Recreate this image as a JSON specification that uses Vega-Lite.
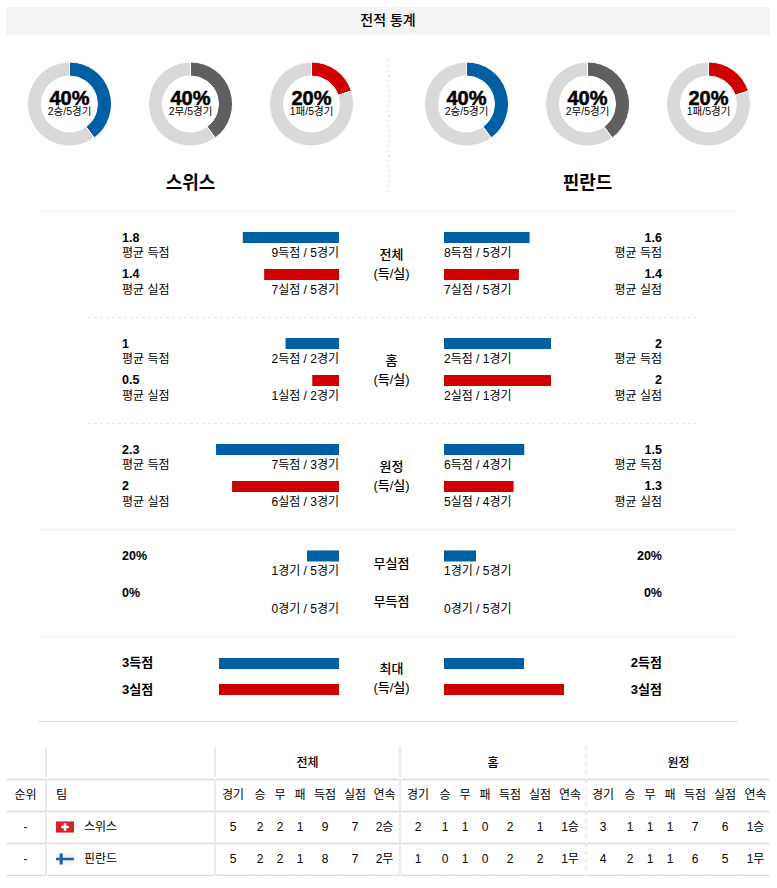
{
"$schema":"https://vega.github.io/schema/vega-lite/v6.json",
"padding":{"left":6,"top":7,"right":0,"bottom":0},
"spacing":0,
"background":"#ffffff",
"config":{
"font":"'Liberation Sans','Noto Sans CJK KR'",
"view":{"stroke":null},
"concat":{"spacing":0},
"scale":{"bandPaddingInner":0,"bandPaddingOuter":0},
"range":{"category":["#005fa3","#5f5f5f","#cf0000","#d9d9d9","#005fa3","#cf0000"]},
"axisY":{"grid":true,"tickBand":"extent","labels":false,"ticks":false,"domain":false,"title":null,"gridColor":"#dcdcdc","gridWidth":1.5},
"style":{
"bigL":{"fontSize":12.5,"fontWeight":"bold","align":"left","dx":19,"dy":-8.5},
"bigR":{"fontSize":12.5,"fontWeight":"bold","align":"right","dx":-23,"dy":-8.5},
"smallL":{"fontSize":12,"align":"left","dx":19,"dy":7},
"smallR":{"fontSize":12,"align":"right","dx":-23,"dy":7},
"maxL":{"fontSize":13,"fontWeight":"bold","align":"left","dx":19,"dy":-2.5},
"maxR":{"fontSize":13,"fontWeight":"bold","align":"right","dx":-23,"dy":-2.5},
"noteL":{"fontSize":12,"align":"right","dy":7},
"noteR":{"fontSize":12,"align":"left","dy":7},
"mid":{"fontSize":13,"fontWeight":500,"lineBreak":"\n","lineHeight":19,"dy":-10},
"mid4":{"fontSize":13,"fontWeight":500},
"grp":{"fontSize":12,"fontWeight":500,"dy":1},
"cell":{"fontSize":12},
"pct":{"fontSize":20,"fontWeight":"bold","dy":-5.5,"stroke":"#000000","strokeWidth":0.5},
"sub":{"fontSize":10.5,"dy":8},
"name":{"fontSize":18,"fontWeight":"bold","dy":-8}
}
},
"datasets":{
"s":[
{"sec":"all","side":"L","row":"득점","value":1.8,"big":"1.8","small":"평균 득점","note":"9득점 / 5경기"},
{"sec":"all","side":"L","row":"실점","value":1.4,"big":"1.4","small":"평균 실점","note":"7실점 / 5경기"},
{"sec":"all","side":"R","row":"득점","value":1.6,"big":"1.6","small":"평균 득점","note":"8득점 / 5경기"},
{"sec":"all","side":"R","row":"실점","value":1.4,"big":"1.4","small":"평균 실점","note":"7실점 / 5경기"},
{"sec":"home","side":"L","row":"득점","value":1,"big":"1","small":"평균 득점","note":"2득점 / 2경기"},
{"sec":"home","side":"L","row":"실점","value":0.5,"big":"0.5","small":"평균 실점","note":"1실점 / 2경기"},
{"sec":"home","side":"R","row":"득점","value":2,"big":"2","small":"평균 득점","note":"2득점 / 1경기"},
{"sec":"home","side":"R","row":"실점","value":2,"big":"2","small":"평균 실점","note":"2실점 / 1경기"},
{"sec":"away","side":"L","row":"득점","value":2.3,"big":"2.3","small":"평균 득점","note":"7득점 / 3경기"},
{"sec":"away","side":"L","row":"실점","value":2,"big":"2","small":"평균 실점","note":"6실점 / 3경기"},
{"sec":"away","side":"R","row":"득점","value":1.5,"big":"1.5","small":"평균 득점","note":"6득점 / 4경기"},
{"sec":"away","side":"R","row":"실점","value":1.3,"big":"1.3","small":"평균 실점","note":"5실점 / 4경기"},
{"sec":"zero","side":"L","row":"무실점","value":20,"big":"20%","note":"1경기 / 5경기"},
{"sec":"zero","side":"L","row":"무득점","value":0,"big":"0%","note":"0경기 / 5경기"},
{"sec":"zero","side":"R","row":"무실점","value":20,"big":"20%","note":"1경기 / 5경기"},
{"sec":"zero","side":"R","row":"무득점","value":0,"big":"0%","note":"0경기 / 5경기"},
{"sec":"max","side":"L","row":"득점","value":3,"big":"3득점"},
{"sec":"max","side":"L","row":"실점","value":3,"big":"3실점"},
{"sec":"max","side":"R","row":"득점","value":2,"big":"2득점"},
{"sec":"max","side":"R","row":"실점","value":3,"big":"3실점"}
],
"d":[
{"id":"l1","part":"승","v":40,"o":1,"pct":"40%","sub":"2승/5경기"},{"id":"l1","part":"나머지","v":60,"o":2},
{"id":"l2","part":"무","v":40,"o":1,"pct":"40%","sub":"2무/5경기"},{"id":"l2","part":"나머지","v":60,"o":2},
{"id":"l3","part":"패","v":20,"o":1,"pct":"20%","sub":"1패/5경기"},{"id":"l3","part":"나머지","v":80,"o":2},
{"id":"r1","part":"승","v":40,"o":1,"pct":"40%","sub":"2승/5경기"},{"id":"r1","part":"나머지","v":60,"o":2},
{"id":"r2","part":"무","v":40,"o":1,"pct":"40%","sub":"2무/5경기"},{"id":"r2","part":"나머지","v":60,"o":2},
{"id":"r3","part":"패","v":20,"o":1,"pct":"20%","sub":"1패/5경기"},{"id":"r3","part":"나머지","v":80,"o":2}
],
"t":[
{"row":"h","rank":"순위","team":"팀","a1":"경기","a2":"승","a3":"무","a4":"패","a5":"득점","a6":"실점","a7":"연속","h1":"경기","h2":"승","h3":"무","h4":"패","h5":"득점","h6":"실점","h7":"연속","w1":"경기","w2":"승","w3":"무","w4":"패","w5":"득점","w6":"실점","w7":"연속"},
{"row":"스위스","rank":"-","team":"스위스","a1":"5","a2":"2","a3":"2","a4":"1","a5":"9","a6":"7","a7":"2승","h1":"2","h2":"1","h3":"1","h4":"0","h5":"2","h6":"1","h7":"1승","w1":"3","w2":"1","w3":"1","w4":"1","w5":"7","w6":"6","w7":"1승"},
{"row":"핀란드","rank":"-","team":"핀란드","a1":"5","a2":"2","a3":"2","a4":"1","a5":"8","a6":"7","a7":"2무","h1":"1","h2":"0","h3":"1","h4":"0","h5":"2","h6":"2","h7":"1무","w1":"4","w2":"2","w3":"1","w4":"1","w5":"6","w6":"5","w7":"1무"}
],
"one":[{"a":""}]
},
"vconcat":[
{"width":764,"height":28,"view":{"fill":"#f4f4f4"},"data":{"values":[{"t":"전적 통계"}]},"mark":{"type":"text","fontSize":14,"fontWeight":500},"encoding":{"text":{"field":"t"}}},
{"hconcat":[
{"width":2.5,"height":176,"data":{"name":"one"},"mark":"text","encoding":{"text":{"field":"a"}}},
{"vconcat":[
{"hconcat":[
{"width":121,"height":138,"data":{"name":"d"},"transform":[{"filter":"datum.id=='l1'"}],"layer":[{"mark":{"type":"arc","innerRadius":28,"outerRadius":42,"stroke":"#ffffff","strokeWidth":1},"encoding":{"theta":{"field":"v","type":"quantitative"},"order":{"field":"o"},"color":{"field":"part","legend":null,"scale":{"domain":["승","무","패","나머지","득점","실점"]}}}},{"transform":[{"filter":"datum.o==1"}],"mark":{"type":"text","style":"pct"},"encoding":{"text":{"field":"pct"}}},{"transform":[{"filter":"datum.o==1"}],"mark":{"type":"text","style":"sub"},"encoding":{"text":{"field":"sub"}}}]},
{"width":121,"height":138,"data":{"name":"d"},"transform":[{"filter":"datum.id=='l2'"}],"layer":[{"mark":{"type":"arc","innerRadius":28,"outerRadius":42,"stroke":"#ffffff","strokeWidth":1},"encoding":{"theta":{"field":"v","type":"quantitative"},"order":{"field":"o"},"color":{"field":"part","legend":null,"scale":{"domain":["승","무","패","나머지","득점","실점"]}}}},{"transform":[{"filter":"datum.o==1"}],"mark":{"type":"text","style":"pct"},"encoding":{"text":{"field":"pct"}}},{"transform":[{"filter":"datum.o==1"}],"mark":{"type":"text","style":"sub"},"encoding":{"text":{"field":"sub"}}}]},
{"width":121,"height":138,"data":{"name":"d"},"transform":[{"filter":"datum.id=='l3'"}],"layer":[{"mark":{"type":"arc","innerRadius":28,"outerRadius":42,"stroke":"#ffffff","strokeWidth":1},"encoding":{"theta":{"field":"v","type":"quantitative"},"order":{"field":"o"},"color":{"field":"part","legend":null,"scale":{"domain":["승","무","패","나머지","득점","실점"]}}}},{"transform":[{"filter":"datum.o==1"}],"mark":{"type":"text","style":"pct"},"encoding":{"text":{"field":"pct"}}},{"transform":[{"filter":"datum.o==1"}],"mark":{"type":"text","style":"sub"},"encoding":{"text":{"field":"sub"}}}]}
]},
{"width":363,"height":38,"data":{"values":[{"t":"스위스"}]},"mark":{"type":"text","style":"name"},"encoding":{"text":{"field":"t"}}}
]},
{"width":15.5,"height":176,"data":{"name":"one"},"mark":"text","encoding":{"text":{"field":"a"}}},
{"width":2,"height":176,"data":{"name":"one"},"mark":{"type":"rule","color":"#e4e4e4","strokeWidth":1.5,"strokeDash":[2,3]},"encoding":{"x":{"datum":0,"type":"quantitative","axis":null,"scale":{"domain":[-1,1]}},"y":{"datum":25,"type":"quantitative","axis":null,"scale":{"domain":[0,176],"reverse":true}},"y2":{"datum":160}}},
{"width":15.5,"height":176,"data":{"name":"one"},"mark":"text","encoding":{"text":{"field":"a"}}},
{"vconcat":[
{"hconcat":[
{"width":121,"height":138,"data":{"name":"d"},"transform":[{"filter":"datum.id=='r1'"}],"layer":[{"mark":{"type":"arc","innerRadius":28,"outerRadius":42,"stroke":"#ffffff","strokeWidth":1},"encoding":{"theta":{"field":"v","type":"quantitative"},"order":{"field":"o"},"color":{"field":"part","legend":null,"scale":{"domain":["승","무","패","나머지","득점","실점"]}}}},{"transform":[{"filter":"datum.o==1"}],"mark":{"type":"text","style":"pct"},"encoding":{"text":{"field":"pct"}}},{"transform":[{"filter":"datum.o==1"}],"mark":{"type":"text","style":"sub"},"encoding":{"text":{"field":"sub"}}}]},
{"width":121,"height":138,"data":{"name":"d"},"transform":[{"filter":"datum.id=='r2'"}],"layer":[{"mark":{"type":"arc","innerRadius":28,"outerRadius":42,"stroke":"#ffffff","strokeWidth":1},"encoding":{"theta":{"field":"v","type":"quantitative"},"order":{"field":"o"},"color":{"field":"part","legend":null,"scale":{"domain":["승","무","패","나머지","득점","실점"]}}}},{"transform":[{"filter":"datum.o==1"}],"mark":{"type":"text","style":"pct"},"encoding":{"text":{"field":"pct"}}},{"transform":[{"filter":"datum.o==1"}],"mark":{"type":"text","style":"sub"},"encoding":{"text":{"field":"sub"}}}]},
{"width":121,"height":138,"data":{"name":"d"},"transform":[{"filter":"datum.id=='r3'"}],"layer":[{"mark":{"type":"arc","innerRadius":28,"outerRadius":42,"stroke":"#ffffff","strokeWidth":1},"encoding":{"theta":{"field":"v","type":"quantitative"},"order":{"field":"o"},"color":{"field":"part","legend":null,"scale":{"domain":["승","무","패","나머지","득점","실점"]}}}},{"transform":[{"filter":"datum.o==1"}],"mark":{"type":"text","style":"pct"},"encoding":{"text":{"field":"pct"}}},{"transform":[{"filter":"datum.o==1"}],"mark":{"type":"text","style":"sub"},"encoding":{"text":{"field":"sub"}}}]}
]},
{"width":363,"height":38,"data":{"values":[{"t":"핀란드"}]},"mark":{"type":"text","style":"name"},"encoding":{"text":{"field":"t"}}}
]}
]},
{"width":764,"height":1,"data":{"name":"one"},"mark":{"type":"rule","color":"#eeeeee","strokeWidth":1},"encoding":{"x":{"datum":32,"type":"quantitative","axis":null,"scale":{"domain":[0,764]}},"x2":{"datum":732},"y":{"datum":0,"type":"quantitative","axis":null,"scale":{"domain":[-1,1]}}}},

{"hconcat":[
{"width":194,"height":105,"data":{"name":"s"},"transform":[{"filter":"datum.sec=='all'&&datum.side=='L'"}],"encoding":{"y":{"field":"row","type":"nominal","axis":null,"scale":{"type":"band","domain":["득점","실점"],"paddingOuter":0.42}}},"layer":[{"mark":{"type":"text","style":"bigL"},"encoding":{"text":{"field":"big"}}},{"mark":{"type":"text","style":"smallL"},"encoding":{"text":{"field":"small"}}}]},
{"width":139,"height":105,"data":{"name":"s"},"transform":[{"filter":"datum.sec=='all'&&datum.side=='L'"}],"encoding":{"y":{"field":"row","type":"nominal","axis":null,"scale":{"type":"band","domain":["득점","실점"],"paddingOuter":0.42}},"x":{"field":"value","type":"quantitative","axis":null,"scale":{"domain":[0,2.6],"reverse":true}}},"layer":[{"mark":{"type":"bar","size":11,"yOffset":-8.5},"encoding":{"color":{"field":"row","legend":null,"scale":{"domain":["승","무","패","나머지","득점","실점"]}}}},{"mark":{"type":"text","style":"noteL"},"encoding":{"x":{"datum":0},"text":{"field":"note"}}}]},
{"width":105,"height":105,"data":{"values":[{"t":"전체\n(득/실)"}]},"mark":{"type":"text","style":"mid"},"encoding":{"text":{"field":"t"}}},
{"width":156,"height":105,"data":{"name":"s"},"transform":[{"filter":"datum.sec=='all'&&datum.side=='R'"}],"encoding":{"y":{"field":"row","type":"nominal","axis":null,"scale":{"type":"band","domain":["득점","실점"],"paddingOuter":0.42}},"x":{"field":"value","type":"quantitative","axis":null,"scale":{"domain":[0,2.916]}}},"layer":[{"mark":{"type":"bar","size":11,"yOffset":-8.5},"encoding":{"color":{"field":"row","legend":null,"scale":{"domain":["승","무","패","나머지","득점","실점"]}}}},{"mark":{"type":"text","style":"noteR"},"encoding":{"x":{"datum":0},"text":{"field":"note"}}}]},
{"width":170,"height":105,"data":{"name":"s"},"transform":[{"filter":"datum.sec=='all'&&datum.side=='R'"}],"encoding":{"y":{"field":"row","type":"nominal","axis":null,"scale":{"type":"band","domain":["득점","실점"],"paddingOuter":0.42}}},"layer":[{"mark":{"type":"text","style":"bigR"},"encoding":{"text":{"field":"big"}}},{"mark":{"type":"text","style":"smallR"},"encoding":{"text":{"field":"small"}}}]}
]},
{"width":764,"height":1,"data":{"name":"one"},"mark":{"type":"rule","color":"#e6e6e6","strokeWidth":1,"strokeDash":[3,3]},"encoding":{"x":{"datum":82,"type":"quantitative","axis":null,"scale":{"domain":[0,764]}},"x2":{"datum":692},"y":{"datum":0,"type":"quantitative","axis":null,"scale":{"domain":[-1,1]}}}},

{"hconcat":[
{"width":194,"height":105,"data":{"name":"s"},"transform":[{"filter":"datum.sec=='home'&&datum.side=='L'"}],"encoding":{"y":{"field":"row","type":"nominal","axis":null,"scale":{"type":"band","domain":["득점","실점"],"paddingOuter":0.42}}},"layer":[{"mark":{"type":"text","style":"bigL"},"encoding":{"text":{"field":"big"}}},{"mark":{"type":"text","style":"smallL"},"encoding":{"text":{"field":"small"}}}]},
{"width":139,"height":105,"data":{"name":"s"},"transform":[{"filter":"datum.sec=='home'&&datum.side=='L'"}],"encoding":{"y":{"field":"row","type":"nominal","axis":null,"scale":{"type":"band","domain":["득점","실점"],"paddingOuter":0.42}},"x":{"field":"value","type":"quantitative","axis":null,"scale":{"domain":[0,2.6],"reverse":true}}},"layer":[{"mark":{"type":"bar","size":11,"yOffset":-8.5},"encoding":{"color":{"field":"row","legend":null,"scale":{"domain":["승","무","패","나머지","득점","실점"]}}}},{"mark":{"type":"text","style":"noteL"},"encoding":{"x":{"datum":0},"text":{"field":"note"}}}]},
{"width":105,"height":105,"data":{"values":[{"t":"홈\n(득/실)"}]},"mark":{"type":"text","style":"mid"},"encoding":{"text":{"field":"t"}}},
{"width":156,"height":105,"data":{"name":"s"},"transform":[{"filter":"datum.sec=='home'&&datum.side=='R'"}],"encoding":{"y":{"field":"row","type":"nominal","axis":null,"scale":{"type":"band","domain":["득점","실점"],"paddingOuter":0.42}},"x":{"field":"value","type":"quantitative","axis":null,"scale":{"domain":[0,2.916]}}},"layer":[{"mark":{"type":"bar","size":11,"yOffset":-8.5},"encoding":{"color":{"field":"row","legend":null,"scale":{"domain":["승","무","패","나머지","득점","실점"]}}}},{"mark":{"type":"text","style":"noteR"},"encoding":{"x":{"datum":0},"text":{"field":"note"}}}]},
{"width":170,"height":105,"data":{"name":"s"},"transform":[{"filter":"datum.sec=='home'&&datum.side=='R'"}],"encoding":{"y":{"field":"row","type":"nominal","axis":null,"scale":{"type":"band","domain":["득점","실점"],"paddingOuter":0.42}}},"layer":[{"mark":{"type":"text","style":"bigR"},"encoding":{"text":{"field":"big"}}},{"mark":{"type":"text","style":"smallR"},"encoding":{"text":{"field":"small"}}}]}
]},
{"width":764,"height":1,"data":{"name":"one"},"mark":{"type":"rule","color":"#e6e6e6","strokeWidth":1,"strokeDash":[3,3]},"encoding":{"x":{"datum":82,"type":"quantitative","axis":null,"scale":{"domain":[0,764]}},"x2":{"datum":692},"y":{"datum":0,"type":"quantitative","axis":null,"scale":{"domain":[-1,1]}}}},

{"hconcat":[
{"width":194,"height":105,"data":{"name":"s"},"transform":[{"filter":"datum.sec=='away'&&datum.side=='L'"}],"encoding":{"y":{"field":"row","type":"nominal","axis":null,"scale":{"type":"band","domain":["득점","실점"],"paddingOuter":0.42}}},"layer":[{"mark":{"type":"text","style":"bigL"},"encoding":{"text":{"field":"big"}}},{"mark":{"type":"text","style":"smallL"},"encoding":{"text":{"field":"small"}}}]},
{"width":139,"height":105,"data":{"name":"s"},"transform":[{"filter":"datum.sec=='away'&&datum.side=='L'"}],"encoding":{"y":{"field":"row","type":"nominal","axis":null,"scale":{"type":"band","domain":["득점","실점"],"paddingOuter":0.42}},"x":{"field":"value","type":"quantitative","axis":null,"scale":{"domain":[0,2.6],"reverse":true}}},"layer":[{"mark":{"type":"bar","size":11,"yOffset":-8.5},"encoding":{"color":{"field":"row","legend":null,"scale":{"domain":["승","무","패","나머지","득점","실점"]}}}},{"mark":{"type":"text","style":"noteL"},"encoding":{"x":{"datum":0},"text":{"field":"note"}}}]},
{"width":105,"height":105,"data":{"values":[{"t":"원정\n(득/실)"}]},"mark":{"type":"text","style":"mid"},"encoding":{"text":{"field":"t"}}},
{"width":156,"height":105,"data":{"name":"s"},"transform":[{"filter":"datum.sec=='away'&&datum.side=='R'"}],"encoding":{"y":{"field":"row","type":"nominal","axis":null,"scale":{"type":"band","domain":["득점","실점"],"paddingOuter":0.42}},"x":{"field":"value","type":"quantitative","axis":null,"scale":{"domain":[0,2.916]}}},"layer":[{"mark":{"type":"bar","size":11,"yOffset":-8.5},"encoding":{"color":{"field":"row","legend":null,"scale":{"domain":["승","무","패","나머지","득점","실점"]}}}},{"mark":{"type":"text","style":"noteR"},"encoding":{"x":{"datum":0},"text":{"field":"note"}}}]},
{"width":170,"height":105,"data":{"name":"s"},"transform":[{"filter":"datum.sec=='away'&&datum.side=='R'"}],"encoding":{"y":{"field":"row","type":"nominal","axis":null,"scale":{"type":"band","domain":["득점","실점"],"paddingOuter":0.42}}},"layer":[{"mark":{"type":"text","style":"bigR"},"encoding":{"text":{"field":"big"}}},{"mark":{"type":"text","style":"smallR"},"encoding":{"text":{"field":"small"}}}]}
]},
{"width":764,"height":1,"data":{"name":"one"},"mark":{"type":"rule","color":"#eeeeee","strokeWidth":1},"encoding":{"x":{"datum":32,"type":"quantitative","axis":null,"scale":{"domain":[0,764]}},"x2":{"datum":732},"y":{"datum":0,"type":"quantitative","axis":null,"scale":{"domain":[-1,1]}}}},

{"hconcat":[
{"width":194,"height":106,"data":{"name":"s"},"transform":[{"filter":"datum.sec=='zero'&&datum.side=='L'"}],"mark":{"type":"text","style":"bigL"},"encoding":{"y":{"field":"row","type":"nominal","axis":null,"scale":{"type":"band","domain":["무실점","무득점"],"paddingOuter":0.43}},"text":{"field":"big"}}},
{"width":139,"height":106,"data":{"name":"s"},"transform":[{"filter":"datum.sec=='zero'&&datum.side=='L'"}],"encoding":{"y":{"field":"row","type":"nominal","axis":null,"scale":{"type":"band","domain":["무실점","무득점"],"paddingOuter":0.43}},"x":{"field":"value","type":"quantitative","axis":null,"scale":{"domain":[0,86.9],"reverse":true}}},"layer":[{"mark":{"type":"bar","size":11,"yOffset":-8.5,"color":"#005fa3"}},{"mark":{"type":"text","style":"noteL"},"encoding":{"x":{"datum":0},"text":{"field":"note"}}}]},
{"width":105,"height":106,"data":{"values":[{"row":"무실점"},{"row":"무득점"}]},"mark":{"type":"text","style":"mid4"},"encoding":{"y":{"field":"row","type":"nominal","axis":null,"scale":{"type":"band","domain":["무실점","무득점"],"paddingOuter":0.43}},"text":{"field":"row"}}},
{"width":156,"height":106,"data":{"name":"s"},"transform":[{"filter":"datum.sec=='zero'&&datum.side=='R'"}],"encoding":{"y":{"field":"row","type":"nominal","axis":null,"scale":{"type":"band","domain":["무실점","무득점"],"paddingOuter":0.43}},"x":{"field":"value","type":"quantitative","axis":null,"scale":{"domain":[0,97.5]}}},"layer":[{"mark":{"type":"bar","size":11,"yOffset":-8.5,"color":"#005fa3"}},{"mark":{"type":"text","style":"noteR"},"encoding":{"x":{"datum":0},"text":{"field":"note"}}}]},
{"width":170,"height":106,"data":{"name":"s"},"transform":[{"filter":"datum.sec=='zero'&&datum.side=='R'"}],"mark":{"type":"text","style":"bigR"},"encoding":{"y":{"field":"row","type":"nominal","axis":null,"scale":{"type":"band","domain":["무실점","무득점"],"paddingOuter":0.43}},"text":{"field":"big"}}}
]},
{"width":764,"height":1,"data":{"name":"one"},"mark":{"type":"rule","color":"#eeeeee","strokeWidth":1},"encoding":{"x":{"datum":32,"type":"quantitative","axis":null,"scale":{"domain":[0,764]}},"x2":{"datum":732},"y":{"datum":0,"type":"quantitative","axis":null,"scale":{"domain":[-1,1]}}}},

{"hconcat":[
{"width":194,"height":84,"data":{"name":"s"},"transform":[{"filter":"datum.sec=='max'&&datum.side=='L'"}],"mark":{"type":"text","style":"maxL"},"encoding":{"y":{"field":"row","type":"nominal","axis":null,"scale":{"type":"band","domain":["득점","실점"],"paddingOuter":0.615}},"text":{"field":"big"}}},
{"width":139,"height":84,"data":{"name":"s"},"transform":[{"filter":"datum.sec=='max'&&datum.side=='L'"}],"mark":{"type":"bar","size":11,"yOffset":-2.5},"encoding":{"y":{"field":"row","type":"nominal","axis":null,"scale":{"type":"band","domain":["득점","실점"],"paddingOuter":0.615}},"x":{"field":"value","type":"quantitative","axis":null,"scale":{"domain":[0,3.475],"reverse":true}},"color":{"field":"row","legend":null,"scale":{"domain":["승","무","패","나머지","득점","실점"]}}}},
{"width":105,"height":84,"data":{"values":[{"t":"최대\n(득/실)"}]},"mark":{"type":"text","style":"mid"},"encoding":{"text":{"field":"t"}}},
{"width":156,"height":84,"data":{"name":"s"},"transform":[{"filter":"datum.sec=='max'&&datum.side=='R'"}],"mark":{"type":"bar","size":11,"yOffset":-2.5},"encoding":{"y":{"field":"row","type":"nominal","axis":null,"scale":{"type":"band","domain":["득점","실점"],"paddingOuter":0.615}},"x":{"field":"value","type":"quantitative","axis":null,"scale":{"domain":[0,3.9]}},"color":{"field":"row","legend":null,"scale":{"domain":["승","무","패","나머지","득점","실점"]}}}},
{"width":170,"height":84,"data":{"name":"s"},"transform":[{"filter":"datum.sec=='max'&&datum.side=='R'"}],"mark":{"type":"text","style":"maxR"},"encoding":{"y":{"field":"row","type":"nominal","axis":null,"scale":{"type":"band","domain":["득점","실점"],"paddingOuter":0.615}},"text":{"field":"big"}}}
]},
{"width":764,"height":1,"data":{"name":"one"},"mark":{"type":"rule","color":"#e0e0e0","strokeWidth":1},"encoding":{"x":{"datum":32,"type":"quantitative","axis":null,"scale":{"domain":[0,764]}},"x2":{"datum":732},"y":{"datum":0,"type":"quantitative","axis":null,"scale":{"domain":[-1,1]}}}},
{"width":1,"height":24,"data":{"name":"one"},"mark":"text","encoding":{"text":{"field":"a"}}},

{"hconcat":[
{"width":39,"height":30,"data":{"name":"one"},"mark":"text","encoding":{"text":{"field":"a"}}},
{"width":2,"height":30,"data":{"name":"one"},"mark":{"type":"rule","color":"#eaeaea","strokeWidth":2},"encoding":{"x":{"datum":0,"type":"quantitative","axis":null,"scale":{"domain":[-1,1]}}}},
{"width":167,"height":30,"data":{"name":"one"},"mark":"text","encoding":{"text":{"field":"a"}}},
{"width":2,"height":30,"data":{"name":"one"},"mark":{"type":"rule","color":"#eaeaea","strokeWidth":2},"encoding":{"x":{"datum":0,"type":"quantitative","axis":null,"scale":{"domain":[-1,1]}}}},
{"width":183,"height":30,"data":{"values":[{"t":"전체"}]},"mark":{"type":"text","style":"grp"},"encoding":{"text":{"field":"t"}}},
{"width":2,"height":30,"data":{"name":"one"},"mark":{"type":"rule","color":"#eaeaea","strokeWidth":2},"encoding":{"x":{"datum":0,"type":"quantitative","axis":null,"scale":{"domain":[-1,1]}}}},
{"width":184,"height":30,"data":{"values":[{"t":"홈"}]},"mark":{"type":"text","style":"grp"},"encoding":{"text":{"field":"t"}}},
{"width":2,"height":30,"data":{"name":"one"},"mark":{"type":"rule","color":"#eaeaea","strokeWidth":2,"strokeDash":[4,4]},"encoding":{"x":{"datum":0,"type":"quantitative","axis":null,"scale":{"domain":[-1,1]}}}},
{"width":183,"height":30,"data":{"values":[{"t":"원정"}]},"mark":{"type":"text","style":"grp"},"encoding":{"text":{"field":"t"}}}
]},
{"bounds":"flush","hconcat":[
{"width":39,"height":96,"data":{"name":"t"},"mark":{"type":"text","style":"cell"},"encoding":{"y":{"field":"row","type":"nominal","title":null,"scale":{"type":"band"}},"text":{"field":"rank"}}},
{"width":2,"height":96,"data":{"name":"one"},"mark":{"type":"rule","color":"#eaeaea","strokeWidth":2},"encoding":{"x":{"datum":0,"type":"quantitative","axis":null,"scale":{"domain":[-1,1]}}}},
{"width":167,"height":96,"data":{"name":"t"},"encoding":{"y":{"field":"row","type":"nominal","title":null,"scale":{"type":"band"}}},"layer":[
{"transform":[{"filter":"datum.row=='h'"}],"mark":{"type":"text","style":"cell","align":"left","dx":-74.5},"encoding":{"text":{"field":"team"}}},
{"transform":[{"filter":"datum.row!='h'"}],"mark":{"type":"text","style":"cell","align":"left","dx":-46.5},"encoding":{"text":{"field":"team"}}},
{"transform":[{"filter":"datum.row=='스위스'"}],"mark":{"type":"point","filled":true,"opacity":1,"color":"#d9202a","size":324,"xOffset":-65.5,"shape":"M-1,-0.62H1V0.62H-1Z"}},
{"transform":[{"filter":"datum.row=='스위스'"}],"mark":{"type":"point","filled":true,"opacity":1,"color":"#ffffff","size":324,"xOffset":-65.5,"shape":"M-0.14,-0.42H0.14V-0.14H0.42V0.14H0.14V0.42H-0.14V0.14H-0.42V-0.14H-0.14Z"}},
{"transform":[{"filter":"datum.row=='핀란드'"}],"mark":{"type":"point","filled":true,"opacity":1,"color":"#f3f5f8","size":324,"xOffset":-65.5,"shape":"M-1,-0.62H1V0.62H-1Z"}},
{"transform":[{"filter":"datum.row=='핀란드'"}],"mark":{"type":"point","filled":true,"opacity":1,"color":"#1f5fa8","size":324,"xOffset":-65.5,"shape":"M-1,-0.13H-0.6V-0.62H-0.25V-0.13H1V0.13H-0.25V0.62H-0.6V0.13H-1Z"}}
]},
{"width":2,"height":96,"data":{"name":"one"},"mark":{"type":"rule","color":"#eaeaea","strokeWidth":2},"encoding":{"x":{"datum":0,"type":"quantitative","axis":null,"scale":{"domain":[-1,1]}}}},
{"width":34,"height":96,"data":{"name":"t"},"mark":{"type":"text","style":"cell"},"encoding":{"y":{"field":"row","type":"nominal","title":null,"scale":{"type":"band"}},"text":{"field":"a1"}}},
{"width":20,"height":96,"data":{"name":"t"},"mark":{"type":"text","style":"cell"},"encoding":{"y":{"field":"row","type":"nominal","title":null,"scale":{"type":"band"}},"text":{"field":"a2"}}},
{"width":20,"height":96,"data":{"name":"t"},"mark":{"type":"text","style":"cell"},"encoding":{"y":{"field":"row","type":"nominal","title":null,"scale":{"type":"band"}},"text":{"field":"a3"}}},
{"width":20,"height":96,"data":{"name":"t"},"mark":{"type":"text","style":"cell"},"encoding":{"y":{"field":"row","type":"nominal","title":null,"scale":{"type":"band"}},"text":{"field":"a4"}}},
{"width":30,"height":96,"data":{"name":"t"},"mark":{"type":"text","style":"cell"},"encoding":{"y":{"field":"row","type":"nominal","title":null,"scale":{"type":"band"}},"text":{"field":"a5"}}},
{"width":30,"height":96,"data":{"name":"t"},"mark":{"type":"text","style":"cell"},"encoding":{"y":{"field":"row","type":"nominal","title":null,"scale":{"type":"band"}},"text":{"field":"a6"}}},
{"width":29,"height":96,"data":{"name":"t"},"mark":{"type":"text","style":"cell"},"encoding":{"y":{"field":"row","type":"nominal","title":null,"scale":{"type":"band"}},"text":{"field":"a7"}}},
{"width":2,"height":96,"data":{"name":"one"},"mark":{"type":"rule","color":"#eaeaea","strokeWidth":2},"encoding":{"x":{"datum":0,"type":"quantitative","axis":null,"scale":{"domain":[-1,1]}}}},
{"width":34,"height":96,"data":{"name":"t"},"mark":{"type":"text","style":"cell"},"encoding":{"y":{"field":"row","type":"nominal","title":null,"scale":{"type":"band"}},"text":{"field":"h1"}}},
{"width":20,"height":96,"data":{"name":"t"},"mark":{"type":"text","style":"cell"},"encoding":{"y":{"field":"row","type":"nominal","title":null,"scale":{"type":"band"}},"text":{"field":"h2"}}},
{"width":20,"height":96,"data":{"name":"t"},"mark":{"type":"text","style":"cell"},"encoding":{"y":{"field":"row","type":"nominal","title":null,"scale":{"type":"band"}},"text":{"field":"h3"}}},
{"width":20,"height":96,"data":{"name":"t"},"mark":{"type":"text","style":"cell"},"encoding":{"y":{"field":"row","type":"nominal","title":null,"scale":{"type":"band"}},"text":{"field":"h4"}}},
{"width":30,"height":96,"data":{"name":"t"},"mark":{"type":"text","style":"cell"},"encoding":{"y":{"field":"row","type":"nominal","title":null,"scale":{"type":"band"}},"text":{"field":"h5"}}},
{"width":30,"height":96,"data":{"name":"t"},"mark":{"type":"text","style":"cell"},"encoding":{"y":{"field":"row","type":"nominal","title":null,"scale":{"type":"band"}},"text":{"field":"h6"}}},
{"width":30,"height":96,"data":{"name":"t"},"mark":{"type":"text","style":"cell"},"encoding":{"y":{"field":"row","type":"nominal","title":null,"scale":{"type":"band"}},"text":{"field":"h7"}}},
{"width":2,"height":96,"data":{"name":"one"},"mark":{"type":"rule","color":"#eaeaea","strokeWidth":2,"strokeDash":[4,4]},"encoding":{"x":{"datum":0,"type":"quantitative","axis":null,"scale":{"domain":[-1,1]}}}},
{"width":32,"height":96,"data":{"name":"t"},"mark":{"type":"text","style":"cell"},"encoding":{"y":{"field":"row","type":"nominal","title":null,"scale":{"type":"band"}},"text":{"field":"w1"}}},
{"width":22,"height":96,"data":{"name":"t"},"mark":{"type":"text","style":"cell"},"encoding":{"y":{"field":"row","type":"nominal","title":null,"scale":{"type":"band"}},"text":{"field":"w2"}}},
{"width":18,"height":96,"data":{"name":"t"},"mark":{"type":"text","style":"cell"},"encoding":{"y":{"field":"row","type":"nominal","title":null,"scale":{"type":"band"}},"text":{"field":"w3"}}},
{"width":22,"height":96,"data":{"name":"t"},"mark":{"type":"text","style":"cell"},"encoding":{"y":{"field":"row","type":"nominal","title":null,"scale":{"type":"band"}},"text":{"field":"w4"}}},
{"width":28,"height":96,"data":{"name":"t"},"mark":{"type":"text","style":"cell"},"encoding":{"y":{"field":"row","type":"nominal","title":null,"scale":{"type":"band"}},"text":{"field":"w5"}}},
{"width":32,"height":96,"data":{"name":"t"},"mark":{"type":"text","style":"cell"},"encoding":{"y":{"field":"row","type":"nominal","title":null,"scale":{"type":"band"}},"text":{"field":"w6"}}},
{"width":29,"height":96,"data":{"name":"t"},"mark":{"type":"text","style":"cell"},"encoding":{"y":{"field":"row","type":"nominal","title":null,"scale":{"type":"band"}},"text":{"field":"w7"}}}
]}
]
}
